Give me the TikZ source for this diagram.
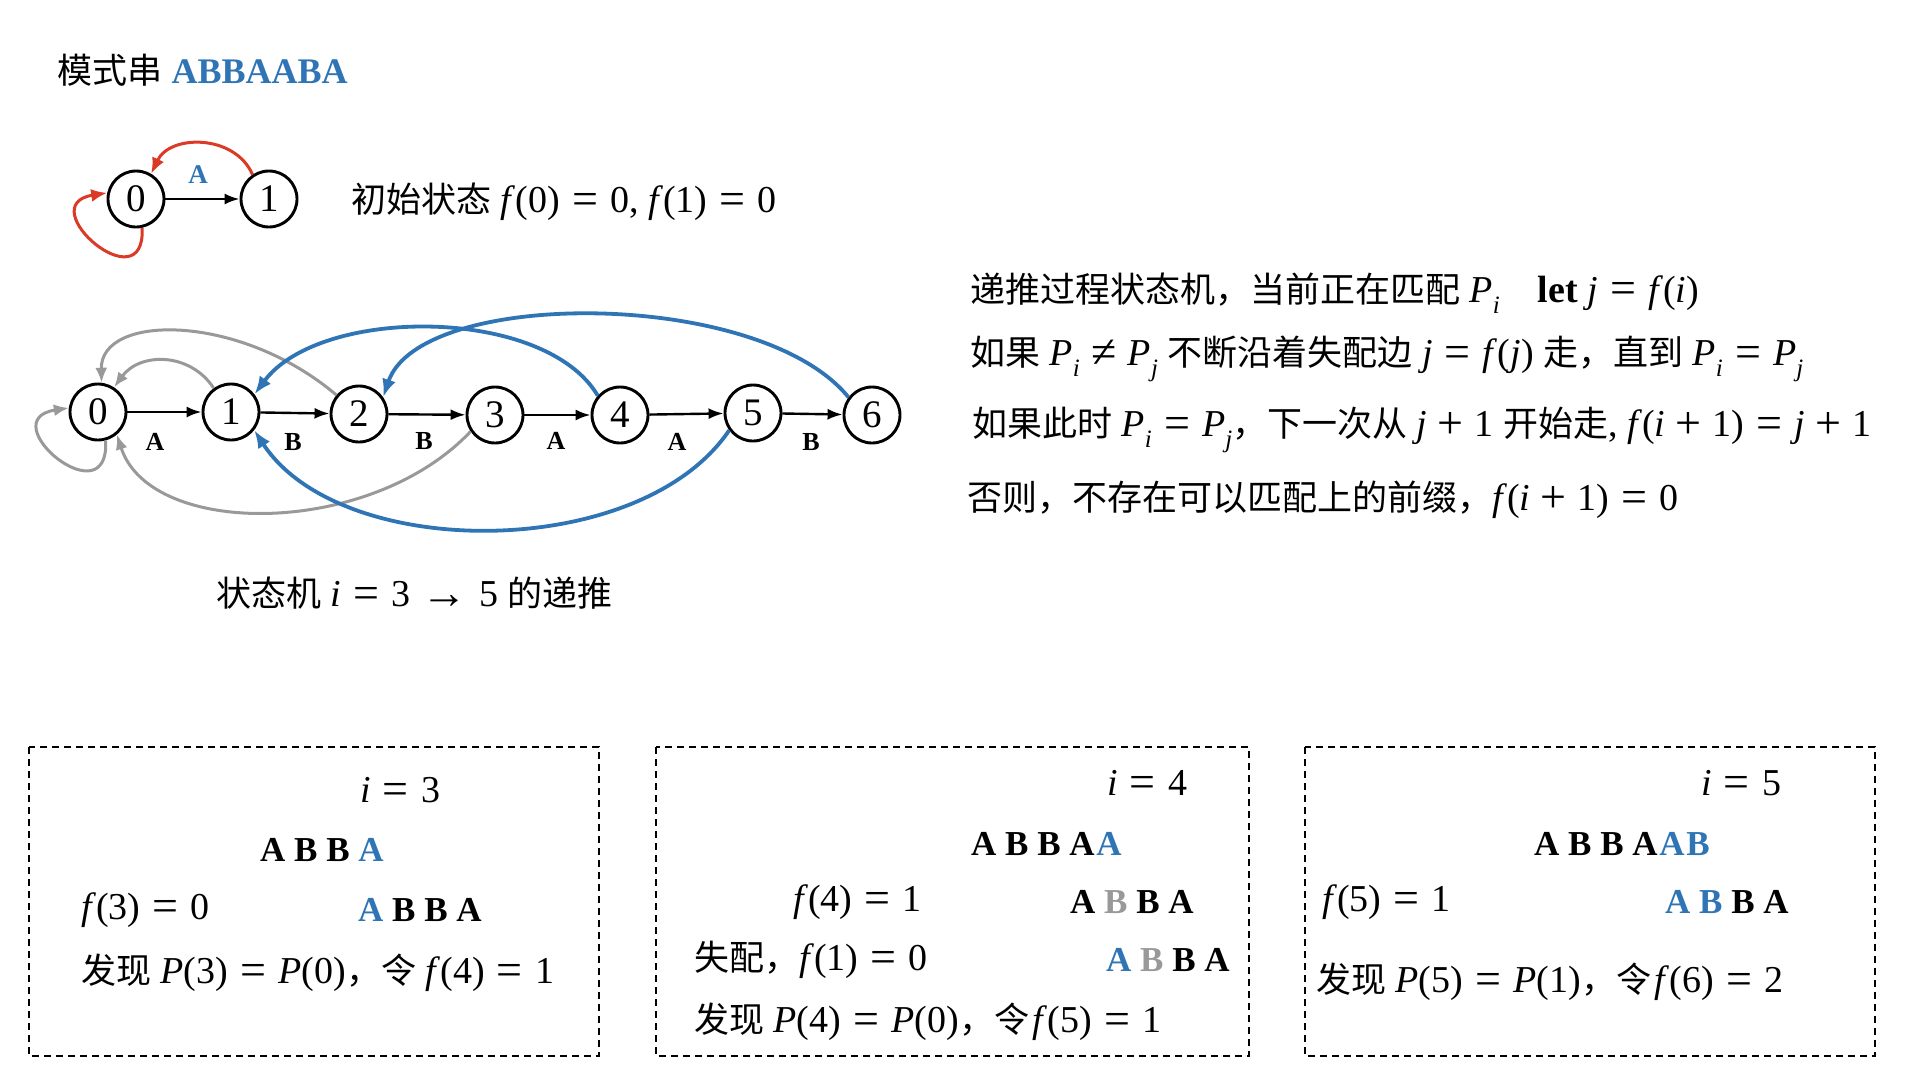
\documentclass[tikz,border=0pt]{standalone}
\usepackage{fontspec}
\setmainfont{Liberation Serif}
\newfontfamily\cjkfam{Noto Sans CJK SC}
\usetikzlibrary{arrows.meta}
\definecolor{kblue}{HTML}{2F75B5}
\definecolor{kred}{HTML}{DA3A26}
\definecolor{kgray}{HTML}{999999}
\newcommand{\kc}[1]{{\cjkfam\fontsize{35}{42}\selectfont #1}}
\newcommand{\kit}[1]{\textit{#1}}
\newcommand{\kbig}[1]{\raisebox{-0.05em}{\fontsize{46}{46}\selectfont #1}}
\newcommand{\keq}{\hspace{0.32em}\kbig{=}\hspace{0.32em}}
\newcommand{\kne}{\hspace{0.3em}\kbig{≠}\hspace{0.3em}}
\newcommand{\kplus}{\hspace{0.28em}\kbig{+}\hspace{0.28em}}
\newcommand{\ksub}[1]{\raisebox{-0.3em}{\fontsize{25}{25}\selectfont\textit{#1}}}
\newcommand{\kb}[1]{\textcolor{kblue}{#1}}
\newcommand{\kg}[1]{\textcolor{kgray}{#1}}
\tikzset{
  txt/.style={anchor=west, inner sep=0pt, font=\fontsize{38}{42}\selectfont},
  seq/.style={anchor=west, inner sep=0pt, font=\fontsize{35}{40}\selectfont\bfseries},
  st/.style={circle, draw, line width=2.9pt, minimum size=56pt, inner sep=0pt, font=\fontsize{39}{40}\selectfont},
  fwd/.style={line width=2.4pt, -{Latex[length=15pt,width=11pt]}},
  lab/.style={inner sep=0pt, font=\fontsize{26}{28}\selectfont\bfseries},
  fgray/.style={kgray, line width=3pt, -{Latex[length=15pt,width=12pt]}},
  fblue/.style={kblue, line width=3.8pt, -{Latex[length=18pt,width=14pt]}},
  fred/.style={kred, line width=3pt, -{Latex[length=16pt,width=13pt]}},
  dbox/.style={line width=2.7pt, dash pattern=on 7pt off 5pt},
}
\begin{document}
\begin{tikzpicture}[x=1pt,y=-1pt]
\useasboundingbox[fill=white] (0,0) rectangle (1920,1080);

% title
\node[txt] (title) at (57,70) {\kc{模式串} {\fontsize{36}{40}\selectfont\bfseries\kb{ABBAABA}}};

% initial machine
\node[st] (t0) at (136,199) {0};
\node[st] (t1) at (269,199) {1};
\draw[fwd] (t0) -- (t1);
\node[lab, font=\fontsize{27}{28}\selectfont\bfseries, kblue] (tA) at (198,175) {A};
\draw[fred] (t1.124) .. controls (235,134) and (170,134) .. (t0.59);
\draw[fred] (t0.-78) .. controls (146,305) and (30,205) .. (t0.168);
\node[txt] (init) at (351,202) {\kc{初始状态} \kit{f}(0)\keq 0, \kit{f}(1)\keq 0};

% main machine
\node[st] (n0) at (98,412) {0};
\node[st] (n1) at (231,412) {1};
\node[st] (n2) at (359,414) {2};
\node[st] (n3) at (495,415) {3};
\node[st] (n4) at (620,415) {4};
\node[st] (n5) at (753,413) {5};
\node[st] (n6) at (872,415) {6};
\draw[fwd] (n0) -- (n1);
\draw[fwd] (n1) -- (n2);
\draw[fwd] (n2) -- (n3);
\draw[fwd] (n3) -- (n4);
\draw[fwd] (n4) -- (n5);
\draw[fwd] (n5) -- (n6);
\node[lab] (l01) at (155,442) {A};
\node[lab] (l12) at (293,442) {B};
\node[lab] (l23) at (424,441) {B};
\node[lab] (l34) at (556,441) {A};
\node[lab] (l45) at (677,442) {A};
\node[lab] (l56) at (811,442) {B};

% failure edges (gray)
\draw[fgray] (n0.-75) .. controls (110,520) and (-10,420) .. (n0.172);
\draw[fgray] (n1.126) .. controls (190,352) and (140,352) .. (n0.57);
\draw[fgray] (n2.140) .. controls (240,313) and (100,313) .. (n0.83);
\draw[fgray] (n3.214) .. controls (370,538) and (150,538) .. (n0.-50);
% failure edges (blue)
\draw[fblue] (n4.139) .. controls (545,306) and (320,306) .. (n1.37);
\draw[fblue] (n6.143) .. controls (760,288) and (420,288) .. (n2.35);
\draw[fblue] (n5.216) .. controls (640,562) and (340,562) .. (n1.-38);

\node[txt] (cap) at (216,593) {\kc{状态机} \kit{i}\keq 3\hspace{0.3em}\kbig{→}\hspace{0.3em}5 \kc{的递推}};

% right text
\node[txt] (r1) at (970,293) {\kc{递推过程状态机，当前正在匹配} \kit{P}\ksub{i}\hspace{1em}\textbf{let} \kit{j}\keq\kit{f}(\kit{i})};
\node[txt] (r2) at (970,359) {\kc{如果} \kit{P}\ksub{i}\kne\kit{P}\ksub{j} \kc{不断沿着失配边} \kit{j}\keq\kit{f}(\kit{j}) \kc{走，直到} \kit{P}\ksub{i}\keq\kit{P}\ksub{j}};
\node[txt] (r3) at (972,430) {\kc{如果此时} \kit{P}\ksub{i}\keq\kit{P}\ksub{j}\kc{，下一次从} \kit{j}\kplus 1 \kc{开始走}, \kit{f}(\kit{i}\kplus 1)\keq\kit{j}\kplus 1};
\node[txt] (r4) at (967,500) {\kc{否则，不存在可以匹配上的前缀，}\kit{f}(\kit{i}\kplus 1)\keq 0};

% boxes
\draw[dbox] (29,747) rectangle (599,1056);
\draw[dbox] (656,747) rectangle (1249,1056);
\draw[dbox] (1305,747) rectangle (1875,1056);

% box 1
\node[txt] (b1i) at (360,791) {\kit{i}\keq 3};
\node[seq] (b1s) at (260,850) {A B B \kb{A}};
\node[txt] (b1f) at (81,910) {\kit{f}(3)\keq 0};
\node[seq] (b1p) at (358,910) {\kb{A} B B A};
\node[txt] (b1c) at (81,973) {\kc{发现} \kit{P}(3)\keq\kit{P}(0)\kc{，令} \kit{f}(4)\keq 1};

% box 2
\node[txt] (b2i) at (1107,784) {\kit{i}\keq 4};
\node[seq] (b2s) at (971,844) {A B B A\hspace{0.05em}\kb{A}};
\node[txt] (b2f) at (793,902) {\kit{f}(4)\keq 1};
\node[seq] (b2p) at (1070,902) {A \kg{B} B A};
\node[txt] (b2m) at (694,960) {\kc{失配，}\kit{f}(1)\keq 0};
\node[seq] (b2q) at (1106,960) {\kb{A} \kg{B} B A};
\node[txt] (b2c) at (694,1022) {\kc{发现} \kit{P}(4)\keq\kit{P}(0)\kc{，令}\hspace{0.1em}\kit{f}(5)\keq 1};

% box 3
\node[txt] (b3i) at (1701,784) {\kit{i}\keq 5};
\node[seq] (b3s) at (1534,844) {A B B A\hspace{0.05em}\kb{A\hspace{0.05em}B}};
\node[txt] (b3f) at (1322,902) {\kit{f}(5)\keq 1};
\node[seq] (b3p) at (1665,902) {\kb{A B} B A};
\node[txt] (b3c) at (1316,982) {\kc{发现} \kit{P}(5)\keq\kit{P}(1)\kc{，令}\hspace{0.1em}\kit{f}(6)\keq 2};
\end{tikzpicture}
\end{document}
